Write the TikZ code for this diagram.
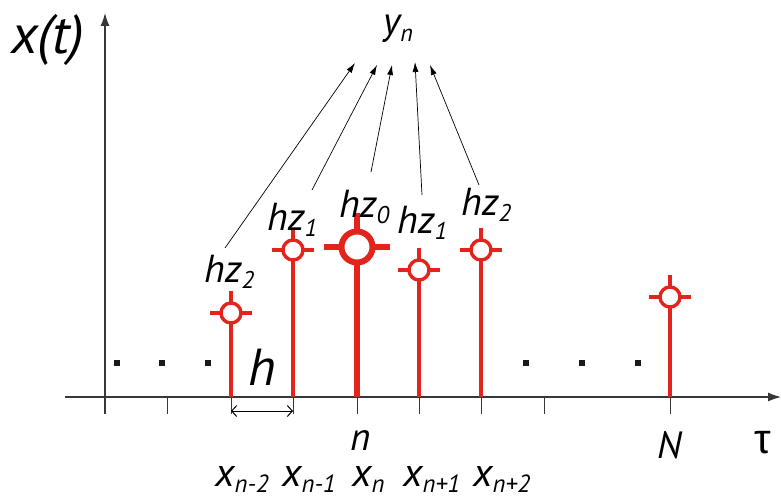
\documentclass[tikz,border=0pt]{standalone}
\usepackage{fontspec}
\setmainfont{PT Sans}
\newfontfamily\taufont{Liberation Sans}
\usetikzlibrary{arrows.meta}
\definecolor{stemred}{RGB}{226,36,28}
\definecolor{axisgray}{RGB}{55,55,55}
\newcommand\lsub[1]{\raisebox{-0.16em}{\fontsize{0.62em}{0.7em}\selectfont #1}}
\begin{document}
\begin{tikzpicture}[x=1pt,y=-1pt,
  axisline/.style={draw=axisgray, line width=1.2pt},
  tickmark/.style={draw=axisgray, line width=1pt},
  stemline/.style={draw=stemred, line width=3.5pt},
  bigstemline/.style={draw=stemred, line width=5.5pt},
  ring/.style={draw=stemred, fill=white, line width=3.4pt},
  bigring/.style={draw=stemred, fill=white, line width=6pt},
  lbl/.style={inner sep=0pt, anchor=base west, font=\itshape\fontsize{39}{42}\selectfont},
  xlbl/.style={inner sep=0pt, anchor=base west, font=\itshape\fontsize{40}{44}\selectfont},
  conn/.style={draw=black, line width=0.7pt, -{Latex[length=10pt,width=6pt]}},
  dotmark/.style={fill=black!90, minimum size=6pt, inner sep=0pt, draw=none}
]
\useasboundingbox (0,0) rectangle (781,500);

% axes
\coordinate (xs) at (65,397);
\coordinate (xe) at (781,397);
\coordinate (ys) at (105,414);
\coordinate (ye) at (105,13);
\draw[axisline, -{Latex[length=13pt,width=9pt]}] (xs) -- (xe);
\draw[axisline, -{Latex[length=13pt,width=9pt]}] (ys) -- (ye);
\foreach \tx in {167,231,293,357,419,481,544,670} {
  \draw[tickmark] (\tx,397) -- (\tx,414);
}

% stems
\foreach \px/\cy in {231/313, 293/250, 419/270, 481/250, 670/297} {
  \draw[stemline] (\px,397) -- (\px,\cy-22);
  \draw[stemline] (\px-21,\cy) -- (\px+21,\cy);
  \draw[ring] (\px,\cy) circle[radius=10];
}
\draw[bigstemline] (357,397) -- (357,213);
\draw[bigstemline] (324,247) -- (390,247);
\draw[bigring] (357,247) circle[radius=15.5];

% dots
\foreach \dx [count=\i] in {117,162,208,526,582,638} {
  \node[dotmark] (d\i) at (\dx,363) {};
}

% labels
\node[inner sep=0pt, anchor=base west, font=\itshape\fontsize{55}{58}\selectfont] (xt) at (11,54) {x(t)};
\node[lbl] (yn) at (383,35) {y\lsub{n}};
\node[lbl] (hzA) at (204,282) {hz\lsub{2}};
\node[lbl] (hzB) at (267,230) {hz\lsub{1}};
\node[lbl] (hzC) at (339,217) {hz\lsub{0}};
\node[lbl] (hzD) at (397,233) {hz\lsub{1}};
\node[lbl] (hzE) at (461,215) {hz\lsub{2}};
\node[inner sep=0pt, anchor=base west, font=\itshape\fontsize{52}{56}\selectfont] (hlab) at (248,385) {h};
\node[inner sep=0pt, anchor=base west, text depth=0pt, font=\itshape\fontsize{39}{42}\selectfont] (nlab) at (350,450) {n};
\node[inner sep=0pt, anchor=base west, font=\itshape\fontsize{38}{40}\selectfont] (Nlab) at (657,458) {N};
\node[inner sep=0pt, anchor=base west, font=\taufont\fontsize{42}{46}\selectfont] (tau) at (754,453) {τ};
\node[xlbl] (x1) at (215,486) {x\lsub{n-2}};
\node[xlbl] (x2) at (282,486) {x\lsub{n-1}};
\node[xlbl] (x3) at (352,486) {x\lsub{n}};
\node[xlbl] (x4) at (403,486) {x\lsub{n+1}};
\node[xlbl] (x5) at (473,486) {x\lsub{n+2}};

% h spacing arrow
\coordinate (hl) at (231,411);
\coordinate (hr) at (293,411);
\draw[draw=black, line width=1pt, {Straight Barb[length=5pt,width=11pt]}-{Straight Barb[length=5pt,width=11pt]}] (hl) -- (hr);

% connectors
\coordinate (s1) at (225,248); \coordinate (e1) at (355,63);
\coordinate (s2) at (312,190); \coordinate (e2) at (377,65);
\coordinate (s3) at (371,172); \coordinate (e3) at (392,65);
\coordinate (s4) at (422,195); \coordinate (e4) at (415,62);
\coordinate (s5) at (479,185); \coordinate (e5) at (430,65);
\foreach \k in {1,...,5} { \draw[conn] (s\k) -- (e\k); }
\end{tikzpicture}
\end{document}
